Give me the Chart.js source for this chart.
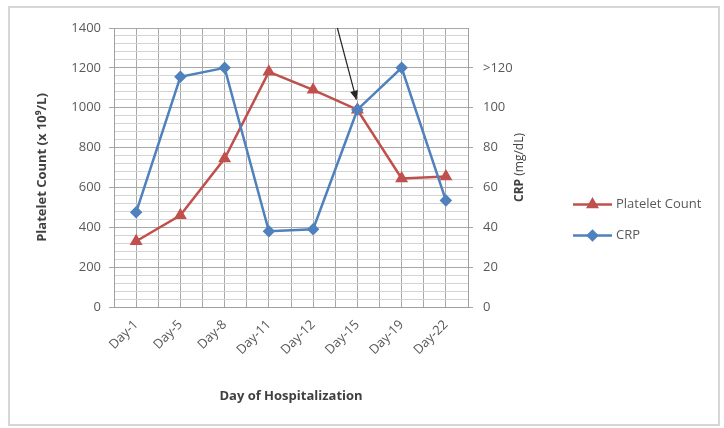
<!DOCTYPE html>
<html><head><meta charset="utf-8">
<script src="https://cdn.jsdelivr.net/npm/chart.js@4.4.1/dist/chart.umd.min.js"></script>
<style>html,body{margin:0;padding:0;background:#fff;}#wrap{position:relative;width:724px;height:428px;}</style>
</head><body><div id="wrap"><canvas id="c" width="724" height="428"></canvas></div>
<script>
const categories = ['Day-1','Day-5','Day-8','Day-11','Day-12','Day-15','Day-19','Day-22'];
const plateletCount = [330, 460, 745, 1180, 1090, 990, 645, 655];
const crpValues = [47.5, 115.5, 120, 38, 39, 99, 120, 53.5];
const crpTickValues = [0, 20, 40, 60, 80, 100, 120];
const crpTickLabels = ['0', '20', '40', '60', '80', '100', '>120'];
const seriesNames = ['Platelet Count', 'CRP'];
const leftTitle = 'Platelet Count (x 10\u2079/L)';
const xTitle = 'Day of Hospitalization';

const FONT = "'Open Sans', 'DejaVu Sans', sans-serif";
const RED = '#C0504D', BLUE = '#4F81BD', TXT = '#595959';

const framePlugin = {
  id: 'frame',
  beforeDraw(chart) {
    const ctx = chart.ctx;
    ctx.save();
    ctx.fillStyle = '#fff';
    ctx.fillRect(0, 0, chart.width, chart.height);
    ctx.strokeStyle = '#d6d6d6';
    ctx.lineWidth = 2;
    ctx.strokeRect(9, 7, chart.width - 14, chart.height - 10);
    ctx.restore();
  }
};

const extrasPlugin = {
  id: 'extras',
  afterDatasetsDraw(chart) {
    const ctx = chart.ctx;
    const ca = chart.chartArea;
    const pt = chart.getDatasetMeta(1).data[5];
    const tx = pt.x - 1, ty = pt.y - 10;
    const sx = pt.x - 20, sy = ca.top;
    ctx.save();
    ctx.strokeStyle = '#262626'; ctx.fillStyle = '#262626'; ctx.lineWidth = 1.2;
    ctx.beginPath(); ctx.moveTo(sx, sy); ctx.lineTo(tx, ty); ctx.stroke();
    const ang = Math.atan2(ty - sy, tx - sx);
    const L = 9, W = 4;
    ctx.beginPath();
    ctx.moveTo(tx, ty);
    ctx.lineTo(tx - L * Math.cos(ang) + W * Math.sin(ang), ty - L * Math.sin(ang) - W * Math.cos(ang));
    ctx.lineTo(tx - L * Math.cos(ang) - W * Math.sin(ang), ty - L * Math.sin(ang) + W * Math.cos(ang));
    ctx.closePath(); ctx.fill();
    ctx.restore();
  },
  afterDraw(chart) {
    const ctx = chart.ctx;
    const ca = chart.chartArea;
    const r = chart.scales.y1;
    ctx.save();
    ctx.translate(r.right - 8, (ca.top + ca.bottom) / 2);
    ctx.rotate(-Math.PI / 2);
    ctx.fillStyle = '#404040';
    ctx.textBaseline = 'middle';
    ctx.font = "bold 12px " + FONT;
    const w1 = ctx.measureText('CRP ').width;
    ctx.font = "12px " + FONT;
    const w2 = ctx.measureText('(mg/dL)').width;
    let x0 = -(w1 + w2) / 2;
    ctx.textAlign = 'left';
    ctx.font = "bold 12px " + FONT;
    ctx.fillText('CRP ', x0, 0);
    ctx.font = "12px " + FONT;
    ctx.fillText('(mg/dL)', x0 + w1, 0);
    ctx.restore();
    const lx = ca.right + 105;
    const ly0 = (ca.top + ca.bottom) / 2 + 37;
    chart.data.datasets.forEach((ds, i) => {
      const y = ly0 + i * 31;
      ctx.save();
      ctx.strokeStyle = ds.borderColor; ctx.lineWidth = 2.5;
      ctx.beginPath(); ctx.moveTo(lx, y); ctx.lineTo(lx + 39, y); ctx.stroke();
      Chart.helpers.drawPoint(ctx, {pointStyle: ds.pointStyle, radius: ds.pointRadius, rotation: 0, borderWidth: 1}, lx + 19.5, y);
      ctx.fillStyle = ds.borderColor; ctx.fill();
      ctx.fillStyle = TXT; ctx.font = "13px " + FONT; ctx.textBaseline = 'middle'; ctx.textAlign = 'left';
      ctx.fillText(ds.label, lx + 43, y);
      ctx.restore();
    });
  }
};

new Chart(document.getElementById('c'), {
  type: 'line',
  data: {
    labels: categories,
    datasets: [
      { label: seriesNames[0], data: plateletCount, yAxisID: 'y', borderColor: RED, backgroundColor: RED,
        borderWidth: 2.5, pointStyle: 'triangle', pointRadius: 5, pointBorderColor: RED, pointBackgroundColor: RED, tension: 0, order: 1 },
      { label: seriesNames[1], data: crpValues, yAxisID: 'y1', borderColor: BLUE, backgroundColor: BLUE,
        borderWidth: 2.5, pointStyle: 'rectRot', pointRadius: 4.5, pointBorderColor: BLUE, pointBackgroundColor: BLUE, tension: 0, order: 0 }
    ]
  },
  options: {
    responsive: false, animation: false, devicePixelRatio: 1,
    layout: { padding: { left: 34, top: 28, right: 196, bottom: 20 } },
    plugins: { legend: { display: false }, tooltip: { enabled: false } },
    scales: {
      x: {
        type: 'category', offset: true, position: 'bottom',
        grid: { offset: false, color: '#a8a8a8', drawTicks: false },
        border: { color: '#a0a0a0' },
        ticks: { minRotation: 45, maxRotation: 45, padding: 10, color: TXT, font: { family: FONT, size: 13 } },
        title: { display: true, text: xTitle, color: '#404040', font: { family: FONT, size: 13, weight: 'bold' }, padding: { top: 0, bottom: 4 } },
        afterFit(s) { s.height = 101; }
      },
      xb: {
        type: 'category', labels: categories, offset: true, position: 'bottom',
        grid: { offset: true, color: '#a8a8a8', drawTicks: false },
        border: { display: false },
        ticks: { display: false },
        afterFit(s) { s.height = 0; }
      },
      yMinor: {
        position: 'left', min: 0, max: 1400, z: -1,
        ticks: { display: false, stepSize: 40 },
        grid: { color: '#d4d4d4', drawTicks: false },
        border: { display: false },
        afterFit(s) { s.width = 0; }
      },
      y: {
        position: 'left', min: 0, max: 1400,
        ticks: { stepSize: 200, padding: 8, color: TXT, font: { family: FONT, size: 13 }, callback: (v) => String(v) },
        grid: { color: '#a8a8a8', tickLength: 5 },
        border: { color: '#a0a0a0' },
        title: { display: true, text: leftTitle, color: '#404040', font: { family: FONT, size: 13, weight: 'bold' }, padding: { top: 0, bottom: 0 } },
        afterFit(s) { s.width = 80; }
      },
      y1: {
        position: 'right', min: 0, max: 140,
        afterBuildTicks(s) { s.ticks = crpTickValues.map(v => ({ value: v })); },
        ticks: { padding: 10, color: TXT, font: { family: FONT, size: 13 },
          callback: (v) => { const i = crpTickValues.indexOf(v); return i >= 0 ? crpTickLabels[i] : ''; } },
        grid: { drawOnChartArea: false, color: '#a8a8a8', tickLength: 5 },
        border: { color: '#a0a0a0' },
        afterFit(s) { s.width = 60; }
      }
    }
  },
  plugins: [framePlugin, extrasPlugin]
});
</script>
</body></html>
